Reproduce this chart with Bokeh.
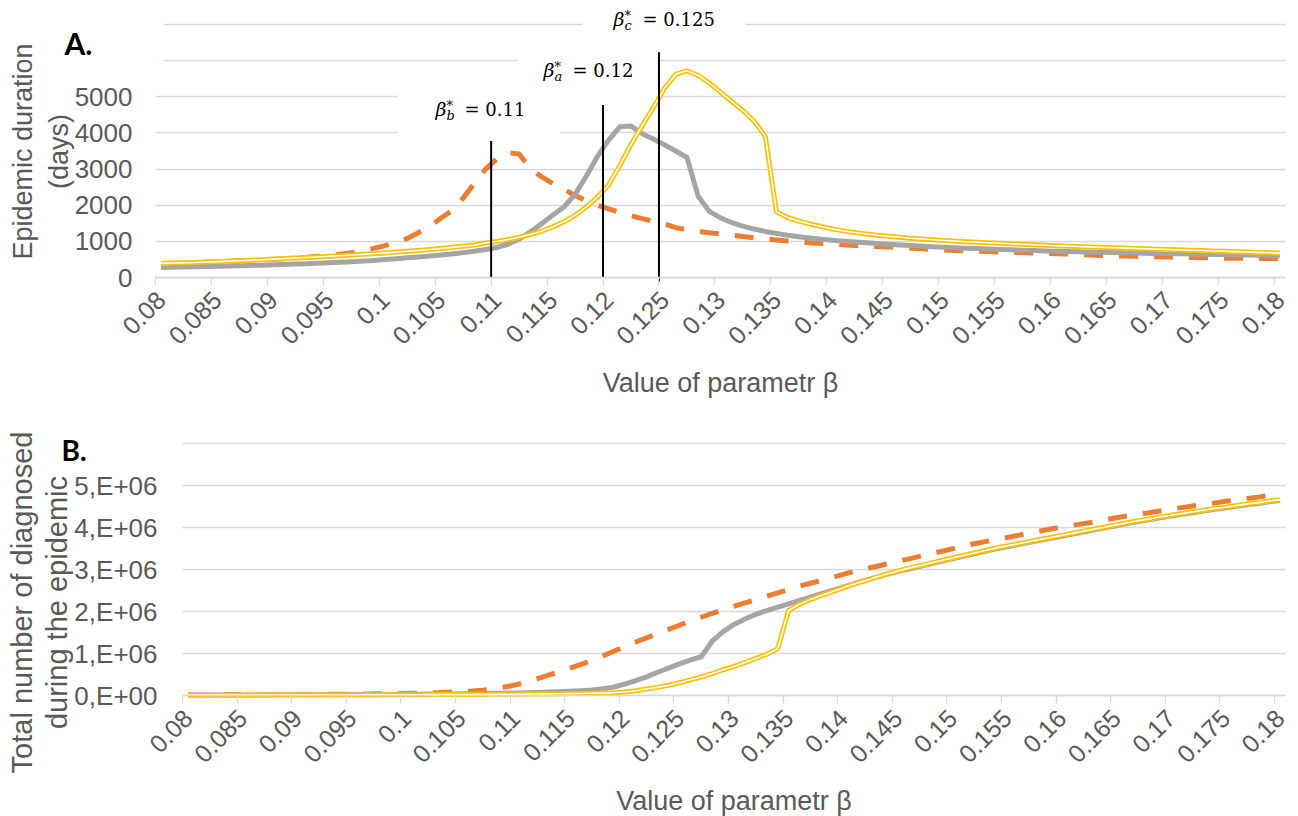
import numpy as np
from bokeh.plotting import figure
from bokeh.layouts import column
from bokeh.models import Range1d, FixedTicker, Label, BoxAnnotation
from bokeh.embed import file_html
from bokeh.resources import INLINE

# ---------------- data ----------------
beta = [round(0.080 + 0.001 * i, 3) for i in range(101)]

x_tick_labels = ["0.08", "0.085", "0.09", "0.095", "0.1", "0.105", "0.11", "0.115",
                 "0.12", "0.125", "0.13", "0.135", "0.14", "0.145", "0.15", "0.155",
                 "0.16", "0.165", "0.17", "0.175", "0.18"]

# Panel A: epidemic duration (days)
dur_a = [280, 285, 290, 296, 302, 310, 318, 326, 334, 342,
         352, 362, 372, 383, 395, 408, 422, 437, 453, 470,
         495, 520, 545, 570, 595, 622, 652, 688, 728, 772,
         830, 920, 1060, 1260, 1490, 1720, 1950, 2300, 2800, 3350,
         3800, 4170, 4190, 3980, 3830, 3670, 3500, 3320, 2250, 1830,
         1650, 1520, 1420, 1340, 1275, 1220, 1170, 1130, 1095, 1062,
         1032, 1005, 982, 960, 940, 921, 900, 884, 868, 852,
         838, 825, 812, 800, 788, 776, 766, 756, 746, 736,
         727, 719, 711, 704, 697, 690, 684, 678, 672, 666,
         660, 654, 649, 644, 639, 634, 629, 624, 619, 614, 609]
dur_b = [380, 390, 400, 412, 425, 440, 452, 465, 478, 490,
         505, 520, 540, 560, 585, 612, 645, 685, 740, 805,
         880, 970, 1080, 1240, 1420, 1640, 1850, 2200, 2600, 3000,
         3280, 3450, 3420, 3010, 2790, 2600, 2440, 2270, 2120, 2000,
         1900, 1800, 1710, 1630, 1555, 1480, 1380, 1320, 1280, 1240,
         1205, 1170, 1135, 1100, 1070, 1040, 1010, 985, 962, 942,
         925, 905, 888, 872, 857, 842, 825, 808, 792, 777,
         762, 748, 735, 725, 716, 707, 698, 689, 680, 670,
         660, 648, 636, 624, 612, 603, 595, 587, 579, 571,
         564, 558, 552, 546, 541, 536, 532, 530, 528, 527, 526]
dur_c = [390, 398, 407, 417, 428, 440, 452, 465, 479, 493,
         508, 523, 538, 553, 569, 586, 603, 621, 640, 660,
         681, 703, 726, 750, 776, 804, 834, 866, 900, 955,
         995, 1050, 1115, 1190, 1280, 1400, 1540, 1720, 1950, 2220,
         2560, 3100, 3680, 4200, 4700, 5240, 5620, 5720, 5590, 5380,
         5130, 4870, 4620, 4330, 3910, 1820, 1660, 1560, 1480, 1410,
         1345, 1290, 1245, 1205, 1170, 1140, 1112, 1087, 1064, 1043,
         1024, 1006, 990, 975, 960, 946, 932, 918, 905, 892,
         880, 868, 857, 846, 835, 825, 815, 805, 795, 785,
         775, 765, 755, 745, 735, 725, 715, 705, 695, 685, 675]

# Panel B: total number of diagnosed (millions)
diag_a_mln = [0.020, 0.020, 0.020, 0.021, 0.021, 0.022, 0.022, 0.023, 0.023, 0.024,
              0.025, 0.026, 0.027, 0.028, 0.029, 0.030, 0.031, 0.032, 0.033, 0.035,
              0.037, 0.039, 0.041, 0.043, 0.045, 0.048, 0.051, 0.054, 0.058, 0.062,
              0.067, 0.073, 0.080, 0.088, 0.097, 0.108, 0.122, 0.140, 0.170, 0.210,
              0.280, 0.360, 0.450, 0.560, 0.660, 0.760, 0.850, 0.930, 1.300, 1.530,
              1.700, 1.830, 1.940, 2.030, 2.110, 2.190, 2.270, 2.350, 2.430, 2.510,
              2.590, 2.670, 2.750, 2.820, 2.890, 2.960, 3.020, 3.080, 3.140, 3.200,
              3.260, 3.320, 3.380, 3.440, 3.500, 3.550, 3.600, 3.650, 3.700, 3.750,
              3.800, 3.850, 3.900, 3.950, 4.000, 4.050, 4.100, 4.150, 4.190, 4.240,
              4.280, 4.320, 4.360, 4.400, 4.440, 4.470, 4.510, 4.550, 4.580, 4.620, 4.650]
diag_b_mln = [0.020, 0.020, 0.020, 0.022, 0.024, 0.025, 0.026, 0.027, 0.028, 0.029,
              0.030, 0.032, 0.034, 0.036, 0.038, 0.040, 0.043, 0.046, 0.050, 0.054,
              0.058, 0.063, 0.069, 0.077, 0.088, 0.100, 0.115, 0.135, 0.165, 0.210,
              0.260, 0.330, 0.410, 0.490, 0.570, 0.660, 0.750, 0.840, 0.950, 1.060,
              1.170, 1.280, 1.380, 1.480, 1.580, 1.680, 1.780, 1.870, 1.960, 2.050,
              2.130, 2.210, 2.290, 2.370, 2.450, 2.530, 2.610, 2.680, 2.750, 2.820,
              2.890, 2.960, 3.020, 3.080, 3.140, 3.200, 3.260, 3.320, 3.380, 3.440,
              3.500, 3.560, 3.620, 3.670, 3.720, 3.770, 3.820, 3.870, 3.920, 3.970,
              4.020, 4.060, 4.100, 4.140, 4.190, 4.240, 4.280, 4.320, 4.360, 4.400,
              4.440, 4.480, 4.520, 4.560, 4.590, 4.630, 4.660, 4.700, 4.730, 4.770, 4.800]
diag_c_mln = [0.015, 0.015, 0.015, 0.016, 0.016, 0.016, 0.017, 0.017, 0.017, 0.018,
              0.018, 0.019, 0.019, 0.020, 0.020, 0.021, 0.022, 0.022, 0.023, 0.024,
              0.025, 0.026, 0.027, 0.028, 0.029, 0.030, 0.031, 0.033, 0.034, 0.036,
              0.038, 0.040, 0.042, 0.045, 0.048, 0.052, 0.056, 0.061, 0.067, 0.075,
              0.090, 0.120, 0.160, 0.200, 0.250, 0.310, 0.380, 0.450, 0.530, 0.620,
              0.700, 0.790, 0.890, 0.990, 1.120, 2.030, 2.180, 2.290, 2.390, 2.480,
              2.570, 2.660, 2.740, 2.820, 2.900, 2.970, 3.040, 3.100, 3.160, 3.220,
              3.280, 3.340, 3.400, 3.460, 3.520, 3.570, 3.620, 3.670, 3.720, 3.770,
              3.820, 3.870, 3.920, 3.970, 4.020, 4.070, 4.120, 4.170, 4.210, 4.260,
              4.300, 4.340, 4.380, 4.420, 4.460, 4.490, 4.530, 4.570, 4.600, 4.640, 4.670]

y_top_ticks = [0, 1000, 2000, 3000, 4000, 5000, 6000, 7000]
y_top_labels = ["0", "1000", "2000", "3000", "4000", "5000", "", ""]
y_bot_ticks = [0, 1000000, 2000000, 3000000, 4000000, 5000000, 6000000]
y_bot_labels = ["0,E+00", "1,E+06", "2,E+06", "3,E+06", "4,E+06", "5,E+06", ""]

beta_star = [0.11, 0.12, 0.125]
star_sub = ["b", "a", "c"]
star_text = ["= 0.11", "= 0.12", "= 0.125"]
star_line_top = [3780, 4770, 6230]
star_line_bottom = [0, 0, -110]

# ---------------- styling / layout ----------------
GRID = "#d9d9d9"
TXT = "#595959"
GRAY = "#a5a5a5"
ORANGE = "#ed7d31"
YELLOW = "#ffc000"
FONT = "Liberation Sans"
SERIF = "DejaVu Serif"
X0, X1 = 0.0795, 0.1805          # data area (category boundaries)
W = 1298
BASE_FIX = 0.43                  # label baseline correction (fraction of font size)

x_ticks = [float(s) for s in x_tick_labels]
x_minor = [round(t - 0.0005, 4) for t in x_ticks]


class Geo:
    """pixel <-> data mapping for a figure whose frame covers the canvas"""
    def __init__(self, px_left, px_right, px_top, px_bottom, ytop, H):
        self.sx = (px_right - px_left) / (X1 - X0)
        self.sy = (px_bottom - px_top) / ytop
        self.px_left, self.px_bottom = px_left, px_bottom
        self.xr = Range1d(X0 - px_left / self.sx, X1 + (W - px_right) / self.sx)
        self.yr = Range1d(-(H - px_bottom) / self.sy, ytop + px_top / self.sy)

    def x(self, px):
        return X0 + (px - self.px_left) / self.sx

    def y(self, py):
        return (self.px_bottom - py) / self.sy


def white_box(p, l=None, r=None, t=None, b=None):
    kw = {k: v for k, v in dict(left=l, right=r, top=t, bottom=b).items() if v is not None}
    p.add_layout(BoxAnnotation(fill_color="white", fill_alpha=1.0,
                               line_color=None, level="underlay", **kw))


def make_fig(H, geo, ytop, yticks, ylabels, ystandoff):
    p = figure(width=W, height=H, x_range=geo.xr, y_range=geo.yr, title=None,
               output_backend="svg", toolbar_location=None,
               min_border_left=0, min_border_right=0,
               min_border_top=0, min_border_bottom=0)
    p.outline_line_color = None
    p.background_fill_color = "white"
    p.border_fill_color = "white"
    p.xgrid.visible = False
    p.ygrid.grid_line_color = GRID
    p.ygrid.grid_line_width = 1.3

    xa = p.xaxis[0]
    xa.fixed_location = 0
    xa.bounds = (X0, X1)
    xa.ticker = FixedTicker(ticks=x_ticks, minor_ticks=x_minor)
    xa.major_label_overrides = {t: s for t, s in zip(x_ticks, x_tick_labels)}
    xa.major_label_orientation = np.pi / 4
    xa.major_tick_line_color = None
    xa.major_tick_out = 0
    xa.major_tick_in = 0
    xa.minor_tick_line_color = GRID
    xa.minor_tick_line_width = 1.3
    xa.minor_tick_out = 8
    xa.minor_tick_in = 0
    xa.axis_line_color = GRID
    xa.axis_line_width = 1.3
    xa.major_label_text_font = FONT
    xa.major_label_text_font_size = "25px"
    xa.major_label_text_color = TXT
    xa.major_label_standoff = 10
    xa.axis_label = "Value of parametr β"
    xa.axis_label_text_font = FONT
    xa.axis_label_text_font_size = "27px"
    xa.axis_label_text_font_style = "normal"
    xa.axis_label_text_color = TXT
    xa.axis_label_standoff = 13

    ya = p.yaxis[0]
    ya.fixed_location = X0
    ya.bounds = (0, ytop)
    ya.ticker = FixedTicker(ticks=yticks, minor_ticks=[])
    ya.major_label_overrides = {t: s for t, s in zip(yticks, ylabels)}
    ya.axis_line_color = None
    ya.major_tick_line_color = None
    ya.minor_tick_line_color = None
    ya.major_tick_out = 0
    ya.major_tick_in = 0
    ya.major_label_text_font = FONT
    ya.major_label_text_font_size = "26px"
    ya.major_label_text_color = TXT
    ya.major_label_standoff = ystandoff

    # keep the horizontal grid inside the data area
    white_box(p, r=X0)
    white_box(p, l=X1)
    return p


def text(p, x, y, s, size, font=FONT, style="normal", color="black",
         align="left", baseline="alphabetic", angle=0.0, line_height=1.2):
    p.add_layout(Label(x=x, y=y, text=s, text_font=font, text_font_size=f"{size}px",
                       text_font_style=style, text_color=color, text_align=align,
                       text_baseline=baseline, angle=angle,
                       text_line_height=line_height))


def text_px(p, g, px, py, s, size, **kw):
    """place text with its alphabetic baseline at pixel (px, py) of the canvas"""
    text(p, g.x(px), g.y(py - BASE_FIX * size), s, size, **kw)


# ---------------- panel A ----------------
H1 = 412
g1 = Geo(155, 1285, 24, 277, 7000, H1)
p1 = make_fig(H1, g1, 7000, y_top_ticks, y_top_labels, 23)

# white text-box backgrounds that interrupt gridlines (as in the original)
white_box(p1, X0, g1.x(163), g1.y(0), g1.y(80))
white_box(p1, g1.x(397), g1.x(560), g1.y(80), g1.y(145))
white_box(p1, g1.x(517), g1.x(657), g1.y(45), g1.y(103))
white_box(p1, g1.x(582), g1.x(745), g1.y(0), g1.y(40))

p1.line(beta, dur_b, line_color=ORANGE, line_width=5, line_dash="19 16")
p1.line(beta, dur_a, line_color=GRAY, line_width=5, line_join="round")
p1.line(beta, dur_c, line_color=YELLOW, line_width=5, line_join="round")
p1.line(beta, dur_c, line_color="white", line_width=1.6, line_join="round")

line_x = [b - 0.0005 for b in beta_star]
p1.segment(x0=line_x, y0=star_line_bottom, x1=line_x, y1=star_line_top,
           line_color="black", line_width=2)

# beta* labels: (left of beta glyph, baseline) in pixels
star_pos = [(435, 117), (543, 78), (613, 27)]
for (bx, by), sub, txt in zip(star_pos, star_sub, star_text):
    text_px(p1, g1, bx, by, "β", 19, font=SERIF, style="italic")
    text_px(p1, g1, bx + 11, by + 4, sub, 13, font=SERIF, style="italic")
    text_px(p1, g1, bx + 11, by - 6, "*", 13, font=SERIF)
    text_px(p1, g1, bx + 29, by, txt, 18, font=SERIF)

text_px(p1, g1, 64, 55, "A.", 30, font="Lato", style="bold")
text(p1, g1.x(40), g1.y(151), "Epidemic duration\n(days)", 27, color=TXT,
     align="center", baseline="middle", angle=np.pi / 2)

# ---------------- panel B ----------------
H2 = 404
T2 = H1                      # page y of panel B canvas top
g2 = Geo(182, 1285, 443.3 - T2, 695.3 - T2, 6000000, H2)
p2 = make_fig(H2, g2, 6000000, y_bot_ticks, y_bot_labels, 25)

diag_a = [v * 1e6 for v in diag_a_mln]
diag_b = [v * 1e6 for v in diag_b_mln]
diag_c = [v * 1e6 for v in diag_c_mln]

p2.line(beta, diag_b, line_color=ORANGE, line_width=5, line_dash="19 16")
p2.line(beta, diag_a, line_color=GRAY, line_width=5, line_join="round")
p2.line(beta, diag_c, line_color=YELLOW, line_width=5, line_join="round")
p2.line(beta, diag_c, line_color="white", line_width=1.6, line_join="round")

text_px(p2, g2, 61, 462 - T2, "B.", 28, font="Lato", style="bold")
text(p2, g2.x(39), g2.y(602 - T2), "Total number of diagnosed\nduring the epidemic",
     29, color=TXT, align="center", baseline="middle", angle=np.pi / 2,
     line_height=1.1)

layout = column(p1, p2)
open("out.html", "w").write(file_html(layout, INLINE))
